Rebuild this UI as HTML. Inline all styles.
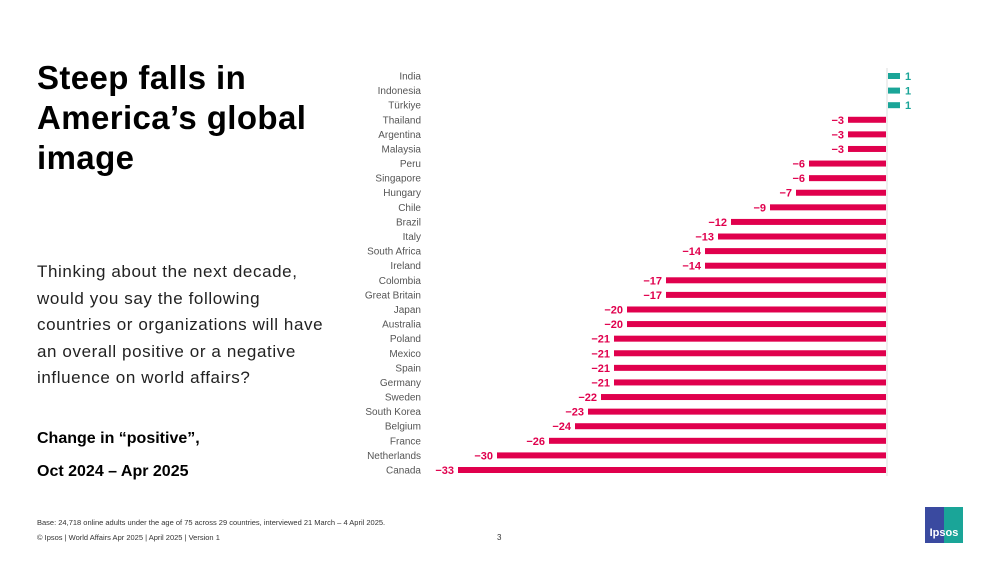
<!DOCTYPE html>
<html><head><meta charset="utf-8"><style>
body{margin:0;width:1000px;height:563px;background:#fff;font-family:"Liberation Sans",sans-serif;position:relative;overflow:hidden}
.t{position:absolute;color:#000}
</style></head><body>
<div class="t" style="left:37px;top:58px;font-size:33px;font-weight:bold;line-height:40px;width:320px;letter-spacing:0.4px">Steep falls in<br>America’s global<br>image</div>
<div class="t" style="left:37px;top:259px;font-size:17px;line-height:26.5px;width:330px;color:#222;letter-spacing:0.6px">Thinking about the next decade,<br>would you say the following<br>countries or organizations will have<br>an overall positive or a negative<br>influence on world affairs?</div>
<div class="t" style="left:37px;top:422px;font-size:16px;font-weight:bold;line-height:33px">Change in “positive”,<br>Oct 2024 – Apr 2025</div>
<div class="t" style="left:37px;top:518px;font-size:7.5px;color:#333">Base: 24,718 online adults under the age of 75 across 29 countries, interviewed 21 March – 4 April 2025.</div>
<div class="t" style="left:37px;top:533px;font-size:7.5px;color:#333">© Ipsos | World Affairs Apr 2025 | April 2025 | Version 1</div>
<div class="t" style="left:497px;top:533px;font-size:8px;color:#333">3</div>
<div style="position:absolute;left:925px;top:507px;width:38px;height:36px;background:linear-gradient(90deg,#3a4aa0 50%,#1aa598 50%);color:#fff;font-size:11px;font-weight:bold;text-align:center;line-height:52px">Ipsos</div>
<svg id="chart" width="1000" height="563" style="position:absolute;left:0;top:0"></svg>
<script>
const categories=["India","Indonesia","Türkiye","Thailand","Argentina","Malaysia","Peru","Singapore","Hungary","Chile","Brazil","Italy","South Africa","Ireland","Colombia","Great Britain","Japan","Australia","Poland","Mexico","Spain","Germany","Sweden","South Korea","Belgium","France","Netherlands","Canada"];
const values=[1,1,1,-3,-3,-3,-6,-6,-7,-9,-12,-13,-14,-14,-17,-17,-20,-20,-21,-21,-21,-21,-22,-23,-24,-26,-30,-33];
const svg=document.getElementById('chart');const NS='http://www.w3.org/2000/svg';
const x0=887,k=13,y0=76,dy=(470-76)/27;
const xs=v=>x0+v*k, ys=i=>y0+i*dy;
function mk(t,a){const e=document.createElementNS(NS,t);for(const n in a)e.setAttribute(n,a[n]);svg.appendChild(e);return e;}
const ax=mk('line',{x1:x0,x2:x0,y1:68,y2:476,stroke:'#ddd','stroke-width':1});


categories.forEach((c,i)=>{
 const y=ys(i),v=values[i];
 const l=mk('text',{x:421,y:y+3.5,'text-anchor':'end','font-size':10,fill:'#555','font-family':'Liberation Sans, sans-serif'});l.textContent=c;
 
 
 const col=v>0?'#1aa598':'#e0004d';
 const b=mk('rect',{x:Math.min(xs(v),x0+1),y:y-3,width:Math.max(Math.abs(v*k)-1,1),height:6,fill:col});
 
 
 const t=mk('text',{x:v>0?xs(v)+5:xs(v)-4,y:y+4,'text-anchor':v>0?'start':'end','font-size':11,'font-weight':'bold',fill:col,'font-family':'Liberation Sans, sans-serif'});
 t.textContent=v>0?String(v):'−'+Math.abs(v);
 
 
});
</script>
</body></html>
